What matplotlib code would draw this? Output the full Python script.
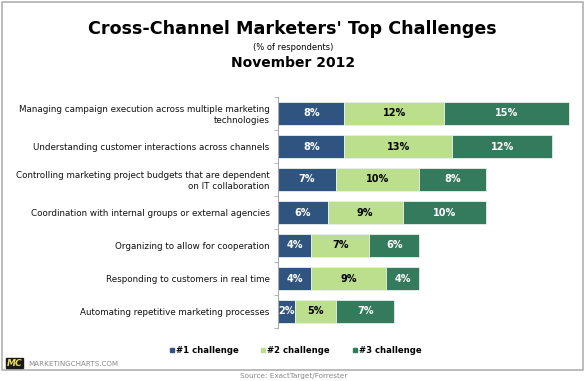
import matplotlib
matplotlib.use("Agg")
import matplotlib.pyplot as plt
from matplotlib.patches import Rectangle

categories = [
    "Managing campaign execution across multiple marketing\ntechnologies",
    "Understanding customer interactions across channels",
    "Controlling marketing project budgets that are dependent\non IT collaboration",
    "Coordination with internal groups or external agencies",
    "Organizing to allow for cooperation",
    "Responding to customers in real time",
    "Automating repetitive marketing processes",
]
series_names = ["#1 challenge", "#2 challenge", "#3 challenge"]
s1 = [8, 8, 7, 6, 4, 4, 2]
s2 = [12, 13, 10, 9, 7, 9, 5]
s3 = [15, 12, 8, 10, 6, 4, 7]

colors = ["#2F5480", "#BBDF8C", "#347A5C"]
text_colors = ["white", "black", "white"]

W, H = 585, 381
fig = plt.figure(figsize=(W / 100, H / 100), dpi=100)
fig.patch.set_facecolor("white")

# outer frame
fig.add_artist(Rectangle((2 / W, 1 - 370 / H), 581 / W, 368 / H, transform=fig.transFigure,
                         fill=False, edgecolor="#B0B0B0", linewidth=1.2))

ax = fig.add_axes([278 / W, 1 - 328 / H, 299 / W, 231 / H])
y = list(range(len(categories)))
left = [0] * len(categories)
for vals, c, tc in zip([s1, s2, s3], colors, text_colors):
    ax.barh(y, vals, left=left, height=0.7, color=c, edgecolor="#E8F0E8", linewidth=0.6)
    for yi, (l, v) in enumerate(zip(left, vals)):
        ax.text(l + v / 2, yi, f"{v}%", ha="center", va="center", color=tc,
                fontsize=7, fontweight="bold")
    left = [l + v for l, v in zip(left, vals)]

ax.set_xlim(0, 36)
ax.set_ylim(len(categories) - 0.5, -0.5)
ax.set_yticks(y)
ax.set_yticklabels(categories, fontsize=6.3, color="#111111")
ax.tick_params(axis="y", which="major", length=0, pad=6)
ax.set_yticks([i - 0.5 for i in range(len(categories) + 1)], minor=True)
ax.tick_params(axis="y", which="minor", length=3, color="#AAAAAA")
ax.set_xticks([])
for s in ["top", "right", "bottom"]:
    ax.spines[s].set_visible(False)
ax.spines["left"].set_color("#AAAAAA")
ax.spines["left"].set_linewidth(0.8)

# titles
fig.text(292 / W, 1 - 29 / H, "Cross-Channel Marketers' Top Challenges", ha="center", va="center",
         fontsize=12.6, fontweight="bold")
fig.text(293 / W, 1 - 47.5 / H, "(% of respondents)", ha="center", va="center", fontsize=6)
fig.text(293 / W, 1 - 63 / H, "November 2012", ha="center", va="center", fontsize=10, fontweight="bold")

# legend
leg_x = [170, 261, 353]
for lx, name, c in zip(leg_x, series_names, colors):
    fig.add_artist(Rectangle((lx / W, 1 - 352 / H), 4 / W, 4 / H, transform=fig.transFigure,
                             color=c))
    fig.text((lx + 6) / W, 1 - 350.5 / H, name, ha="left", va="center", fontsize=6.1,
             fontweight="bold")

# logo
fig.add_artist(Rectangle((6 / W, 1 - 368 / H), 17 / W, 10 / H, transform=fig.transFigure,
                         color="#1A1A1A"))
fig.text(14.5 / W, 1 - 363 / H, "MC", ha="center", va="center", fontsize=6.5, fontweight="bold",
         color="#E8E05A", style="italic")
fig.text(28 / W, 1 - 364 / H, "MARKETINGCHARTS.COM", ha="left", va="center", fontsize=5.1,
         color="#888888")
fig.text(294 / W, 1 - 376 / H, "Source: ExactTarget/Forrester", ha="center", va="center",
         fontsize=5.2, color="#888888")

fig.savefig("out.png", dpi=100, facecolor="white")
